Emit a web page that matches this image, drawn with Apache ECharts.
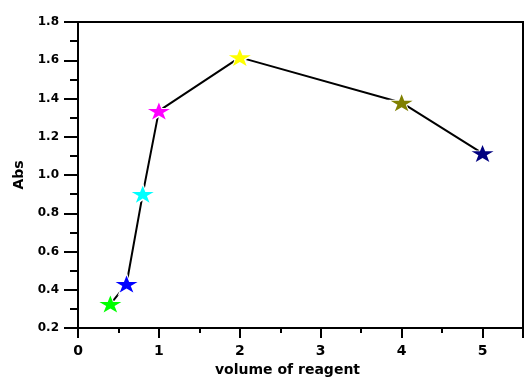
<!DOCTYPE html>
<html>
<head>
<meta charset="utf-8">
<script src="https://cdn.jsdelivr.net/npm/echarts@6/dist/echarts.min.js"></script>
<style>html,body{margin:0;padding:0;background:#fff;}#c{width:525px;height:377px;}</style>
</head>
<body>
<div id="c"></div>
<script>
const volume = [0.4, 0.6, 0.8, 1.0, 2.0, 4.0, 5.0];
const absValues = [0.325, 0.43, 0.90, 1.335, 1.615, 1.378, 1.113];
const pointColors = ['#00ff00', '#0000ff', '#00ffff', '#ff00ff', '#ffff00', '#808000', '#000080'];
const xTicks = [0, 1, 2, 3, 4, 5];
const yTicks = [0.2, 0.4, 0.6, 0.8, 1.0, 1.2, 1.4, 1.6, 1.8];

const star = 'path://M50,0 L61.8,36.2 L100,36.2 L69.1,58.6 L80.9,95.1 L50,72.7 L19.1,95.1 L30.9,58.6 L0,36.2 L38.2,36.2 Z';
const font = '"DejaVu Sans", sans-serif';
const points = volume.map((x, i) => [x, absValues[i]]);

const chart = echarts.init(document.getElementById('c'), null, {renderer: 'canvas'});
chart.setOption({
  animation: false,
  backgroundColor: '#fff',
  grid: {left: 78, right: 2, top: 22, bottom: 49, show: true, borderColor: '#000', borderWidth: 2,
         backgroundColor: 'transparent', containLabel: false, outerBoundsMode: 'none'},
  xAxis: {
    type: 'value', min: 0, max: 5.5, interval: 1,
    name: 'volume of reagent', nameLocation: 'middle', nameGap: 30,
    nameTextStyle: {fontFamily: font, fontWeight: 'bold', fontSize: 14, color: '#000', padding: [0, 26, 0, 0]},
    axisLine: {show: true, onZero: false, lineStyle: {color: '#000', width: 2}},
    axisTick: {show: true, inside: false, length: 10, lineStyle: {color: '#000', width: 2}},
    minorTick: {show: true, splitNumber: 2, length: 5, lineStyle: {color: '#000', width: 2}},
    splitLine: {show: false},
    axisLabel: {
      margin: 16, fontFamily: font, fontWeight: 'bold', fontSize: 14, color: '#000',
      formatter: v => (xTicks.indexOf(v) >= 0 ? String(v) : '')
    }
  },
  yAxis: {
    type: 'value', min: 0.2, max: 1.8, interval: 0.2,
    name: 'Abs', nameLocation: 'middle', nameGap: 49, nameRotate: 90,
    nameTextStyle: {fontFamily: font, fontWeight: 'bold', fontSize: 14, color: '#000'},
    axisLine: {show: true, onZero: false, lineStyle: {color: '#000', width: 2}},
    axisTick: {show: true, inside: false, length: 14, lineStyle: {color: '#000', width: 2}},
    minorTick: {show: true, splitNumber: 2, length: 8, lineStyle: {color: '#000', width: 2}},
    splitLine: {show: false},
    axisLabel: {
      margin: 19, fontFamily: font, fontWeight: 'bold', fontSize: 12, color: '#000',
      formatter: v => {
        const t = yTicks.find(y => Math.abs(y - v) < 1e-6);
        return t !== undefined ? t.toFixed(1) : '';
      }
    }
  },
  series: [
    {
      type: 'line', data: points, showSymbol: false, symbol: 'none',
      lineStyle: {color: '#000', width: 2}, z: 2
    },
    {
      type: 'scatter', data: points, symbol: star, symbolSize: [29, 24],
      itemStyle: {color: '#fff', opacity: 1}, z: 3, silent: true
    },
    {
      type: 'scatter',
      data: points.map((p, i) => ({value: p, itemStyle: {color: pointColors[i], opacity: 1}})),
      symbol: star, symbolSize: [22, 17], z: 4
    }
  ]
});
</script>
</body>
</html>
